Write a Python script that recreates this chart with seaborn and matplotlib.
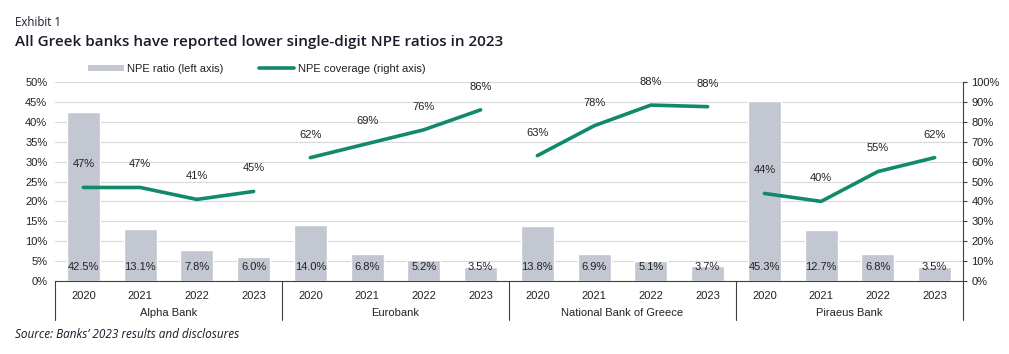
import matplotlib
matplotlib.use("Agg")
import matplotlib.pyplot as plt
import matplotlib.transforms as mtransforms
from matplotlib.patches import Patch
from matplotlib.lines import Line2D
import seaborn as sns
import pandas as pd

banks = ["Alpha Bank", "Eurobank", "National Bank of Greece", "Piraeus Bank"]
years = ["2020", "2021", "2022", "2023"]
npe_ratio = {
    "Alpha Bank": [42.5, 13.1, 7.8, 6.0],
    "Eurobank": [14.0, 6.8, 5.2, 3.5],
    "National Bank of Greece": [13.8, 6.9, 5.1, 3.7],
    "Piraeus Bank": [45.3, 12.7, 6.8, 3.5],
}
npe_coverage = {
    "Alpha Bank": [47, 47, 41, 45],
    "Eurobank": [62, 69, 76, 86],
    "National Bank of Greece": [63, 78, 88.4, 87.6],
    "Piraeus Bank": [44, 40, 55, 62],
}

rows = []
i = 0
for b in banks:
    for j, y in enumerate(years):
        rows.append({"bank": b, "year": y, "key": f"{b}|{y}", "idx": i,
                     "ratio": npe_ratio[b][j], "coverage": npe_coverage[b][j]})
        i += 1
df = pd.DataFrame(rows)

BAR = "#c3c7d2"
GREEN = "#118a6b"
TXT = "#222222"

sns.set_theme(style="white")
plt.rcParams["font.family"] = ["Liberation Sans", "DejaVu Sans"]

fig = plt.figure(figsize=(10.09, 3.54), dpi=100)
ax = fig.add_axes([55 / 1009, 1 - 281 / 354, (963 - 55) / 1009, (281 - 82) / 354])

sns.barplot(data=df, x="key", y="ratio", color=BAR, width=0.58, ax=ax,
            saturation=1, order=list(df["key"]))
ax.set_xlim(-0.5, len(df) - 0.5)
ax.set_ylim(0, 50)
ax.set_yticks(range(0, 51, 5))
ax.set_yticklabels([f"{v}%" for v in range(0, 51, 5)], fontsize=8, color=TXT)
ax.set_xticks(range(len(df)))
ax.set_xticklabels(df["year"], fontsize=8, color=TXT)
ax.tick_params(axis="x", length=0, pad=7)
ax.tick_params(axis="y", length=0, pad=5.5)
ax.set_xlabel("")
ax.set_ylabel("")
ax.yaxis.grid(True, color="#d9d9d9", linewidth=0.8)
ax.set_axisbelow(True)
for s in ["left", "top", "right"]:
    ax.spines[s].set_visible(False)
ax.spines["bottom"].set_color("#404040")
ax.spines["bottom"].set_linewidth(0.8)

for _, r in df.iterrows():
    ax.text(r["idx"], 3.5, f"{r['ratio']:.1f}%", ha="center", va="center",
            fontsize=8, color=TXT)

ax2 = ax.twinx()
sns.lineplot(data=df, x="idx", y="coverage", units="bank", estimator=None,
             color=GREEN, linewidth=2.6, ax=ax2, legend=False)
ax2.set_ylim(0, 100)
ax2.set_xlim(-0.5, len(df) - 0.5)
ax2.set_yticks(range(0, 101, 10))
ax2.set_yticklabels([f"{v}%" for v in range(0, 101, 10)], fontsize=8, color=TXT)
ax2.tick_params(axis="y", length=3, width=0.8, color="#404040", pad=3, direction="out")
ax2.set_ylabel("")
ax2.set_xlabel("")
for s in ["left", "top", "bottom"]:
    ax2.spines[s].set_visible(False)
ax2.spines["right"].set_color("#404040")
ax2.spines["right"].set_linewidth(0.8)
ax2.grid(False)

for _, r in df.iterrows():
    ax2.annotate(f"{r['coverage']:.0f}%", (r["idx"], r["coverage"]),
                 xytext=(0, 13), textcoords="offset points",
                 ha="center", va="bottom", fontsize=8, color=TXT)

trans = mtransforms.blended_transform_factory(ax.transData, ax.transAxes)
for k in range(len(banks) + 1):
    x = -0.5 + 4 * k
    ax.plot([x, x], [0, -0.197], transform=trans, color="#404040",
            linewidth=0.8, clip_on=False)
for k, b in enumerate(banks):
    ax.text(1.5 + 4 * k, -0.16, b, transform=trans, ha="center", va="center",
            fontsize=8, color=TXT)

handles = [Patch(facecolor=BAR, edgecolor="none"),
           Line2D([0], [0], color=GREEN, linewidth=2.6)]
fig.legend(handles, ["NPE ratio (left axis)", "NPE coverage (right axis)"],
           loc="center left", bbox_to_anchor=(78 / 1009, 1 - 69 / 354),
           ncol=2, frameon=False, fontsize=8, handlelength=3.2,
           handleheight=0.5, handletextpad=0.3, columnspacing=3.2,
           labelcolor=TXT)

fig.text(15 / 1009, 1 - 22 / 354, "Exhibit 1", fontsize=8.3, color="#1a1a2a",
         family=["Open Sans", "DejaVu Sans"], va="center")
fig.text(15 / 1009, 1 - 42 / 354,
         "All Greek banks have reported lower single-digit NPE ratios in 2023",
         fontsize=11, color="#1a1a2a", family=["Open Sans", "DejaVu Sans"],
         va="center", weight="semibold")
fig.text(15 / 1009, 1 - 334 / 354, "Source: Banks\u2019 2023 results and disclosures",
         fontsize=8.5, color="#1a1a2a", family=["Open Sans", "DejaVu Sans"],
         style="italic", va="center")

fig.savefig("out.png", dpi=100)
